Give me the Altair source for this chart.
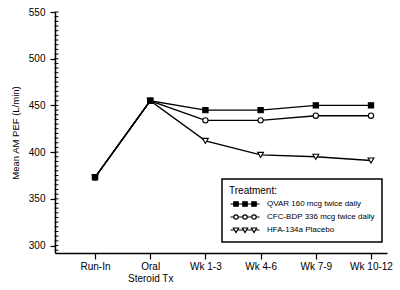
import json
import altair as alt
import pandas as pd

# Study periods along the x axis (label lines for each period)
periods = ["Run-In", "Oral Steroid Tx", "Wk 1-3", "Wk 4-6", "Wk 7-9", "Wk 10-12"]
period_lines = [["Run-In"], ["Oral", "Steroid Tx"], ["Wk 1-3"], ["Wk 4-6"], ["Wk 7-9"], ["Wk 10-12"]]

# Treatment groups
treatments = ["QVAR 160 mcg twice daily", "CFC-BDP 336 mcg twice daily", "HFA-134a Placebo"]

# Mean AM PEF (L/min) per period
qvar_pef = [373, 455, 445, 445, 450, 450]
cfc_pef = [373, 455, 434, 434, 439, 439]
placebo_pef = [373, 455, 412, 397, 395, 391]

marker_shapes = ["square", "circle", "triangle-down"]
marker_fills = ["black", "white", "white"]
marker_sizes = [28, 28, 34]

# y-axis ticks: labelled every 50, minor marks every 5
major_ticks = list(range(300, 551, 50))
minor_ticks = list(range(295, 551, 5))


def legend_symbol(kind):
    """Line with three markers, in symbol units (1 unit = 2px at size 16)."""
    centers = [-4.5, 0.0, 4.5]
    h = 1.1
    segs = "M-7.25,0L-5.6,0M-3.4,0L-1.1,0M1.1,0L3.4,0M5.6,0L7.25,0"
    marks = ""
    for c in centers:
        if kind == "square":
            marks += f"M{c-h},{-h}L{c+h},{-h}L{c+h},{h}L{c-h},{h}Z"
        elif kind == "circle":
            marks += f"M{c+h},0A{h},{h} 0 1,1 {c-h},0A{h},{h} 0 1,1 {c+h},0Z"
        else:
            marks += f"M{c-1.3},-1L{c+1.3},-1L{c},1.25Z"
    return segs + marks


legend_paths = [legend_symbol(k) for k in marker_shapes]

rows = []
for name, vals in zip(treatments, [qvar_pef, cfc_pef, placebo_pef]):
    for i, (p, v) in enumerate(zip(periods, vals)):
        rows.append({"Treatment": name, "Period": p, "Order": i, "PEF": v})
df = pd.DataFrame(rows)
minor_df = pd.DataFrame({"Tick": minor_ticks})

label_expr = json.dumps(period_lines) + "[datum.value]"

x_enc = alt.X(
    "Order:Q",
    scale=alt.Scale(domain=[-0.725, 5.29], nice=False, zero=False),
    axis=alt.Axis(
        values=list(range(len(periods))),
        labelExpr=label_expr,
        title=None,
        grid=False,
        tickSize=6,
        tickColor="black",
        tickWidth=1.2,
        domainColor="black",
        domainWidth=1.5,
        labelPadding=2,
        labelFontSize=10,
        labelColor="black",
        labelFont="Liberation Sans",
        labelLineHeight=12,
    ),
)

y_scale = alt.Scale(domain=[292, 550], nice=False, zero=False)

y_main = alt.Y(
    "PEF:Q",
    scale=y_scale,
    axis=alt.Axis(
        values=major_ticks,
        title="Mean AM PEF (L/min)",
        titleFontSize=9.5,
        titleFontWeight="normal",
        titleFont="Liberation Sans",
        titleColor="black",
        titlePadding=8,
        tickSize=5,
        tickColor="black",
        tickWidth=1.2,
        grid=False,
        domainColor="black",
        domainWidth=1.5,
        labelPadding=5,
        labelFontSize=10,
        labelColor="black",
        labelFont="Liberation Sans",
    ),
)

base = alt.Chart(df)

lines = base.mark_line(color="black", strokeWidth=1.4).encode(
    x=x_enc, y=y_main, detail="Treatment:N"
)

# Minor tick marks on the inner side of the y axis
minor = alt.Chart(minor_df).mark_rule(color="black", strokeWidth=1, opacity=1).encode(
    y=alt.Y("Tick:Q"), x=alt.value(-0.5), x2=alt.value(3.5)
)

# One marker layer per treatment
marker_layers = [
    base.transform_filter(alt.datum.Treatment == name)
    .mark_point(shape=shape, filled=True, fill=fill, stroke="black",
                strokeWidth=1.1, size=size, opacity=1)
    .encode(x=x_enc, y="PEF:Q")
    for name, shape, fill, size in zip(treatments, marker_shapes, marker_fills, marker_sizes)
]

legend_props = dict(
    title="Treatment:",
    orient="none",
    legendX=167,
    legendY=167,
    symbolSize=16,
    symbolOffset=12,
    labelOffset=18,
    symbolStrokeWidth=1.2,
    symbolOpacity=1,
)

key = base.mark_point(filled=True, strokeWidth=1.2, opacity=1).encode(
    x=x_enc,
    y="PEF:Q",
    shape=alt.Shape("Treatment:N", scale=alt.Scale(domain=treatments, range=legend_paths),
                    legend=alt.Legend(**legend_props)),
    fill=alt.Fill("Treatment:N", scale=alt.Scale(domain=treatments, range=marker_fills),
                  legend=alt.Legend(**legend_props)),
    stroke=alt.Stroke("Treatment:N", scale=alt.Scale(domain=treatments, range=["black"] * 3),
                      legend=alt.Legend(**legend_props)),
).transform_filter("false")

chart = (
    alt.layer(lines, *marker_layers[::-1], key, minor)
    .properties(
        width=332,
        height=241,
        autosize="none",
        padding={"left": 55, "top": 12, "right": 13, "bottom": 37},
        background="white",
    )
    .configure_view(stroke=None)
    .configure_legend(
        strokeColor="black",
        strokeWidth=1.5,
        padding=7,
        titleFont="Liberation Sans",
        titleFontSize=10,
        titleFontWeight=500,
        titleColor="black",
        titlePadding=4,
        labelFont="Liberation Sans",
        labelFontSize=8,
        labelColor="black",
        rowPadding=3,
    )
)

chart.save("out.html", embed_options={"renderer": "svg", "actions": False})
